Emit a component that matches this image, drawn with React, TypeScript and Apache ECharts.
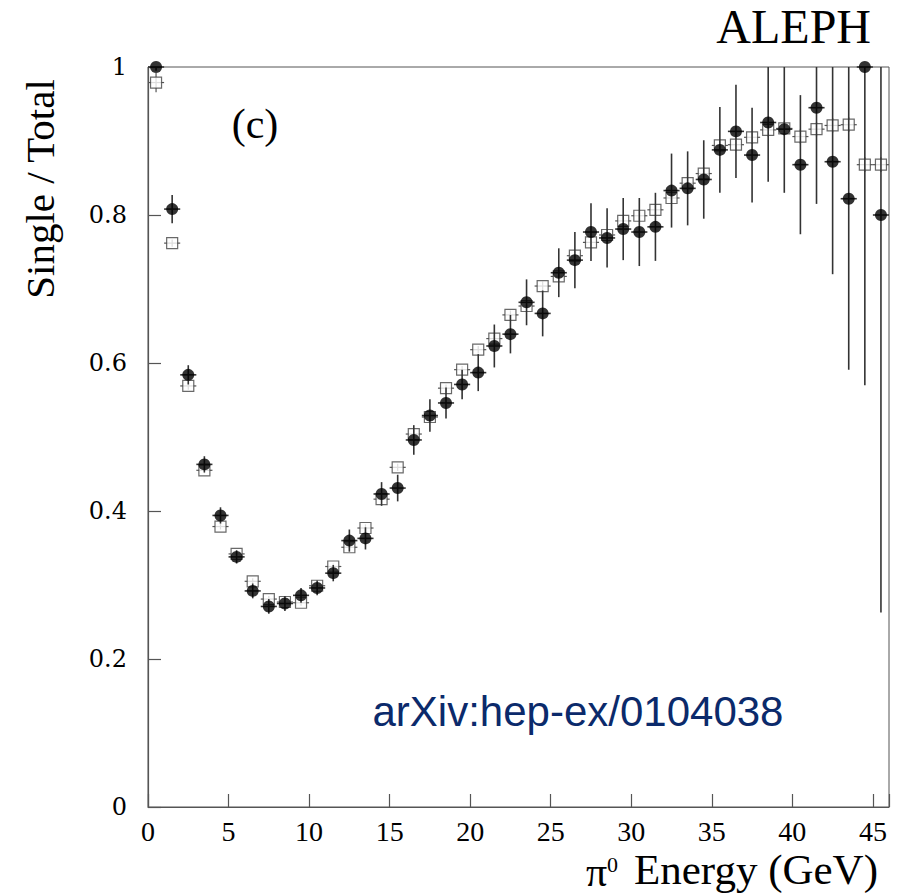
import React, { useEffect, useRef } from "react";
import * as echarts from "echarts";

// Bin centres (GeV)
const energyBins = [
  0.5, 1.5, 2.5, 3.5, 4.5, 5.5, 6.5, 7.5, 8.5, 9.5, 10.5, 11.5, 12.5, 13.5, 14.5, 15.5,
  16.5, 17.5, 18.5, 19.5, 20.5, 21.5, 22.5, 23.5, 24.5, 25.5, 26.5, 27.5, 28.5, 29.5, 30.5,
  31.5, 32.5, 33.5, 34.5, 35.5, 36.5, 37.5, 38.5, 39.5, 40.5, 41.5, 42.5, 43.5, 44.5, 45.5,
];

// Data (filled circles)
const dataValues = [
  1.0, 0.808, 0.584, 0.463, 0.394, 0.338, 0.292, 0.271, 0.275, 0.286, 0.296, 0.316, 0.36, 0.363,
  0.423, 0.431, 0.496, 0.529, 0.546, 0.571, 0.587, 0.623, 0.639, 0.682, 0.667, 0.722, 0.739,
  0.777, 0.769, 0.781, 0.777, 0.784, 0.833, 0.836, 0.848, 0.888, 0.913, 0.881, 0.925, 0.916,
  0.868, 0.945, 0.872, 0.822, 1.0, 0.8,
];
const dataErrors = [
  0.005, 0.019, 0.013, 0.011, 0.011, 0.009, 0.01, 0.01, 0.01, 0.01, 0.01, 0.011, 0.015, 0.015,
  0.016, 0.018, 0.02, 0.022, 0.021, 0.02, 0.025, 0.029, 0.026, 0.031, 0.031, 0.033, 0.038,
  0.039, 0.04, 0.042, 0.046, 0.046, 0.05, 0.05, 0.053, 0.058, 0.063, 0.064, 0.08, 0.086,
  0.094, 0.13, 0.152, 0.231, 0.43, 0.537,
];

// Monte Carlo (open squares)
const mcValues = [
  0.979, 0.762, 0.569, 0.455, 0.379, 0.342, 0.305, 0.281, 0.277, 0.276, 0.299, 0.325, 0.351,
  0.377, 0.416, 0.459, 0.504, 0.527, 0.566, 0.591, 0.618, 0.633, 0.665, 0.677, 0.704, 0.717,
  0.745, 0.763, 0.773, 0.792, 0.799, 0.807, 0.823, 0.843, 0.856, 0.894, 0.895, 0.905, 0.915,
  0.917, 0.906, 0.916, 0.921, 0.922, 0.868, 0.868,
];
const mcErrors = [
  0.013, 0.005, 0.005, 0.004, 0.004, 0.004, 0.004, 0.004, 0.004, 0.004, 0.004, 0.004, 0.005,
  0.005, 0.005, 0.005, 0.005, 0.005, 0.005, 0.005, 0.005, 0.005, 0.006, 0.006, 0.006, 0.006,
  0.006, 0.006, 0.007, 0.007, 0.007, 0.007, 0.008, 0.008, 0.008, 0.008, 0.009, 0.009, 0.009,
  0.01, 0.01, 0.01, 0.01, 0.01, 0.01, 0.01,
];

const xTicks = { min: 0, max: 46, interval: 5 };
const yTicks = { min: 0, max: 1, interval: 0.2 };
const binHalfWidth = 0.5;

const SERIF = "Liberation Serif";

function errorBarRenderer(color: string, width: number) {
  return (params: any, api: any) => {
    const x = api.value(0);
    const y = api.value(1);
    const e = api.value(2);
    const lo = Math.max(yTicks.min, y - e);
    const hi = Math.min(yTicks.max, y + e);
    const pLo = api.coord([x, lo]);
    const pHi = api.coord([x, hi]);
    const pL = api.coord([Math.max(xTicks.min, x - binHalfWidth), y]);
    const pR = api.coord([Math.min(xTicks.max, x + binHalfWidth), y]);
    const style = { stroke: color, lineWidth: width };
    return {
      type: "group",
      children: [
        { type: "line", shape: { x1: pLo[0], y1: pLo[1], x2: pHi[0], y2: pHi[1] }, style },
        { type: "line", shape: { x1: pL[0], y1: pL[1], x2: pR[0], y2: pR[1] }, style },
      ],
    };
  };
}

export default function App() {
  const ref = useRef<HTMLDivElement>(null);
  useEffect(() => {
    document.body.style.margin = "0";
    const chart = echarts.init(ref.current!, null, { renderer: "svg" });
    const dataPts = energyBins.map((x, i) => [x, dataValues[i], dataErrors[i]]);
    const mcPts = energyBins.map((x, i) => [x, mcValues[i], mcErrors[i]]);
    const axisColor = "#555";
    chart.setOption({
      animation: false,
      backgroundColor: "#fff",
      grid: {
        left: 148,
        right: 26,
        top: 67,
        bottom: 88,
        show: true,
        borderColor: axisColor,
        borderWidth: 1,
      },
      xAxis: {
        type: "value",
        min: xTicks.min,
        max: xTicks.max,
        interval: xTicks.interval,
        axisLine: { show: true, lineStyle: { color: axisColor, width: 1.2 } },
        axisTick: { show: true, inside: true, length: 13, lineStyle: { color: axisColor, width: 1.2 } },
        splitLine: { show: false },
        axisLabel: {
          margin: 10,
          color: "#000",
          fontFamily: SERIF,
          fontSize: 28,
          formatter: (v: number) => (v % 5 === 0 ? String(v) : ""),
        },
      },
      yAxis: {
        type: "value",
        min: yTicks.min,
        max: yTicks.max,
        interval: yTicks.interval,
        axisLine: { show: true, lineStyle: { color: axisColor, width: 1.2 } },
        axisTick: { show: true, inside: true, length: 13, lineStyle: { color: axisColor, width: 1.2 } },
        splitLine: { show: false },
        axisLabel: {
          margin: 21,
          color: "#000",
          fontFamily: "DejaVu Serif",
          fontSize: 24,
        },
      },
      series: [
        {
          type: "custom",
          name: "mcErr",
          data: mcPts,
          encode: { x: 0, y: 1 },
          renderItem: errorBarRenderer("#555", 1.2),
          z: 1,
          silent: true,
        },
        {
          type: "scatter",
          name: "MC",
          data: mcPts,
          encode: { x: 0, y: 1 },
          symbol: "rect",
          symbolSize: [11, 11],
          itemStyle: { color: "#fff", borderColor: "#444", borderWidth: 1.2 },
          z: 2,
          clip: false,
          silent: true,
        },
        {
          type: "custom",
          name: "dataErr",
          data: dataPts,
          encode: { x: 0, y: 1 },
          renderItem: errorBarRenderer("#333", 1.6),
          z: 3,
          silent: true,
        },
        {
          type: "scatter",
          name: "Data",
          data: dataPts,
          encode: { x: 0, y: 1 },
          symbol: "circle",
          symbolSize: 12,
          itemStyle: { color: "#000" },
          z: 4,
          clip: false,
          silent: true,
        },
      ],
      graphic: [
        {
          type: "text",
          x: 871,
          y: 26,
          style: { text: "ALEPH", fontFamily: SERIF, fontSize: 48, fill: "#000", align: "right", verticalAlign: "middle" },
        },
        {
          type: "text",
          x: 255,
          y: 124,
          style: { text: "(c)", fontFamily: SERIF, fontSize: 42, fill: "#000", align: "center", verticalAlign: "middle" },
        },
        {
          type: "text",
          x: 578,
          y: 711,
          style: {
            text: "arXiv:hep-ex/0104038",
            fontFamily: "Liberation Sans",
            fontSize: 42,
            fill: "#0b2a6b",
            align: "center",
            verticalAlign: "middle",
          },
        },
        {
          type: "text",
          x: 40,
          y: 189,
          rotation: Math.PI / 2,
          style: { text: "Single / Total", fontFamily: SERIF, fontSize: 41, fill: "#000", align: "center", verticalAlign: "middle" },
        },
        {
          type: "text",
          x: 586,
          y: 872,
          style: { text: "π", fontFamily: SERIF, fontSize: 42, fill: "#000", align: "left", verticalAlign: "middle" },
        },
        {
          type: "text",
          x: 607,
          y: 864,
          style: { text: "0", fontFamily: SERIF, fontSize: 22, fill: "#000", align: "left", verticalAlign: "middle" },
        },
        {
          type: "text",
          x: 878,
          y: 869,
          style: { text: "Energy (GeV)", fontFamily: SERIF, fontSize: 43, fill: "#000", align: "right", verticalAlign: "middle" },
        },
      ],
    });
    return () => chart.dispose();
  }, []);
  return <div ref={ref} style={{ width: 915, height: 895 }} />;
}
